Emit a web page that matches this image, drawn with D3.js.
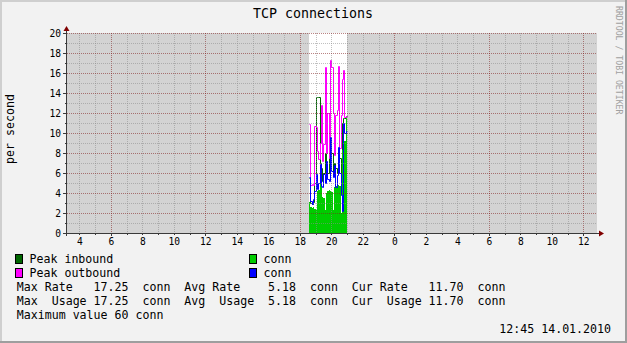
<!DOCTYPE html>
<html><head><meta charset="utf-8">
<script src="https://cdn.jsdelivr.net/npm/d3@7"></script>
<style>
html,body{margin:0;padding:0;background:#f2f2f2;}
svg{display:block;}
text{font-family:"DejaVu Sans Mono",monospace;white-space:pre;}
</style>
</head><body>
<svg id="c" width="627" height="343" xml:space="preserve"></svg>
<script>
// ---------------- data ----------------
const titleText = "TCP connections";
const yAxisLabel = "per second";
const watermark = "RRDTOOL / TOBI OETIKER";
const dateText = "12:45 14.01.2010";
const yTickValues = [0, 2, 4, 6, 8, 10, 12, 14, 16, 18, 20];
const viewStart = new Date(2010, 0, 13, 3, 13);
const viewEnd = new Date(2010, 0, 14, 12, 52);
const dataStart = new Date(2010, 0, 13, 18, 35);
const stepMinutes = 5;
// conn in (average) - green area
const inAvg   = [3.1, 2.6, 2.5, 2.6, 2.4, 2.3, 4.2, 4.3, 5.4, 5.3, 3.6, 3.5, 2.3, 4.0, 4.2,
                 4.3, 4.2, 4.1, 2.3, 4.6, 4.7, 4.6, 4.8, 4.7, 2.0, 8.3, 8.8, 9.2, 11.7];
// peak inbound - dark green line
const inPeak  = [5.5, 3.0, 2.9, 3.1, 5.0, 13.6, 13.6, 13.6, 7.0, 6.5, 5.2, 6.0, 8.0, 6.5, 6.0,
                 7.5, 9.4, 8.0, 6.0, 7.0, 6.5, 6.0, 8.5, 7.5, 6.0, 11.0, 11.5, 11.5, 11.7];
// conn out (average) - blue line
const outAvg  = [5.6, 3.2, 2.9, 3.4, 4.2, 5.9, 4.4, 5.0, 6.9, 4.7, 4.6, 5.9, 5.0, 7.2, 5.4,
                 5.2, 9.6, 6.2, 5.6, 6.8, 4.6, 5.8, 8.6, 6.0, 3.8, 2.2, 11.0, 10.0, 10.2];
// peak outbound - magenta line
const outPeak = [10.9, 4.8, 4.9, 4.8, 10.7, 10.6, 8.2, 7.4, 9.0, 12.8, 7.2, 8.9, 16.6, 8.0, 12.0,
                 7.5, 17.25, 16.6, 12.0, 7.8, 11.8, 12.3, 16.7, 8.5, 11.8, 15.4, 16.3, 11.6, 11.7];
const legendNames = ["Peak inbound", "conn", "Peak outbound", "conn"];
const legendColors = ["#006600", "#00cc00", "#ff00ff", "#0000ff"];
const statRowLabels = [["Max Rate  ", "Avg Rate  ", "Cur Rate  "],
                       ["Max  Usage", "Avg  Usage", "Cur  Usage"]];
const statValues = [17.25, 5.18, 11.70];
const unitText = "conn";
const maxValueText = "Maximum value 60 conn";

// ---------------- layout ----------------
const W = 627, H = 343;
const L = 67, R = 597, T = 33, B = 233;
const svg = d3.select("#c");

const x = d3.scaleTime().domain([viewStart, viewEnd]).range([L, R]);
const y = d3.scaleLinear().domain([0, 20]).range([B, T]);
const px = t => Math.round(x(t));
const py = v => Math.round(y(v));

// background + 3D border
svg.append("rect").attr("width", W).attr("height", H).attr("fill", "#f2f2f2");
svg.append("path").attr("d", `M0,0H${W}V2H2V${H}H0Z`).attr("fill", "#cfcfcf");
svg.append("path").attr("d", `M${W},0V${H}H0V${H-2}H${W-2}V0Z`).attr("fill", "#9e9e9e");

// samples
const step = stepMinutes * 60000;
function series(vals) {
  const pts = vals.map((v, i) => ({t: new Date(dataStart.getTime() + i * step), v}));
  pts.push({t: new Date(dataStart.getTime() + vals.length * step), v: vals[vals.length - 1]});
  return pts;
}
const dataEnd = new Date(dataStart.getTime() + inAvg.length * step);

// canvas: white where data known, gray where unknown
svg.append("rect").attr("x", L).attr("y", T).attr("width", R - L).attr("height", B - T).attr("fill", "#ffffff");
svg.append("rect").attr("x", L).attr("y", T).attr("width", px(dataStart) - L).attr("height", B - T).attr("fill", "#d3d3d3");
svg.append("rect").attr("x", px(dataEnd)).attr("y", T).attr("width", R - px(dataEnd)).attr("height", B - T).attr("fill", "#d3d3d3");

const line = d3.line().x(d => px(d.t) + 0.5).y(d => py(d.v) + 0.5).curve(d3.curveStepAfter);
const area = d3.area().x(d => px(d.t)).y0(B).y1(d => py(d.v)).curve(d3.curveStepAfter);

const g = svg.append("g");
g.append("path").attr("d", line(series(inPeak))).attr("fill", "none").attr("stroke", legendColors[0]).attr("stroke-width", 1);
g.append("path").attr("d", area(series(inAvg))).attr("fill", legendColors[1]);
g.append("path").attr("d", line(series(outPeak))).attr("fill", "none").attr("stroke", legendColors[2]).attr("stroke-width", 1);
g.append("path").attr("d", line(series(outAvg))).attr("fill", "none").attr("stroke", legendColors[3]).attr("stroke-width", 1);

// grid
const grid = svg.append("g").attr("shape-rendering", "crispEdges");
const hours = d3.timeHour.range(d3.timeHour.ceil(viewStart), viewEnd);
hours.forEach(h => {
  const major = h.getHours() % 6 === 0;
  grid.append("line").attr("x1", px(h) + 0.5).attr("x2", px(h) + 0.5)
    .attr("y1", T).attr("y2", B)
    .attr("stroke", major ? "rgba(130,30,30,0.55)" : "rgba(140,140,140,0.55)")
    .attr("stroke-dasharray", "1,1");
});
d3.range(1, 21).forEach(v => {
  const major = v % 2 === 0;
  grid.append("line").attr("x1", L).attr("x2", R)
    .attr("y1", y(v) + 0.5).attr("y2", y(v) + 0.5)
    .attr("stroke", major ? "rgba(130,30,30,0.55)" : "rgba(140,140,140,0.55)")
    .attr("stroke-dasharray", "1,1");
});

// ticks
const axc = "#3a3a3a";
d3.range(0, 21).forEach(v => {
  const major = v % 2 === 0;
  grid.append("line").attr("x1", major ? 63 : 64.5).attr("x2", L)
    .attr("y1", y(v) + 0.5).attr("y2", y(v) + 0.5).attr("stroke", axc);
});
hours.forEach(h => {
  const major = h.getHours() % 6 === 0;
  const hx = px(h) + 0.5;
  grid.append("line").attr("x1", hx).attr("x2", hx)
    .attr("y1", B).attr("y2", B + (major ? 3 : 2)).attr("stroke", axc);
});

// axes
grid.append("line").attr("x1", L - 0.5).attr("x2", L - 0.5).attr("y1", 29).attr("y2", B + 3).attr("stroke", axc);
grid.append("line").attr("x1", 63).attr("x2", 600).attr("y1", B + 0.5).attr("y2", B + 0.5).attr("stroke", axc);
svg.append("path").attr("d", `M${L-3.5},31L${L-0.5},26L${L+2.5},31Z`).attr("fill", "#800000");
svg.append("path").attr("d", `M599,${B-2.5}L604,${B+0.5}L599,${B+3.5}Z`).attr("fill", "#800000");

// y tick labels
svg.append("g").selectAll("text").data(yTickValues).join("text")
  .attr("x", 61).attr("y", d => y(d) + 3.6)
  .attr("text-anchor", "end").attr("font-size", "9.6px").attr("fill", "#000")
  .text(d => d);

// x tick labels
const labelHours = d3.timeHour.range(d3.timeHour.ceil(viewStart), viewEnd)
  .filter(h => h.getHours() % 2 === 0);
const fmtH = d3.timeFormat("%-H");
svg.append("g").selectAll("text").data(labelHours).join("text")
  .attr("x", d => x(d) + 0.5).attr("y", 244.5)
  .attr("text-anchor", "middle").attr("font-size", "9.6px").attr("fill", "#000")
  .text(d => fmtH(d));

// title
svg.append("text").attr("x", 313).attr("y", 18).attr("text-anchor", "middle")
  .attr("font-size", "13.3px").attr("fill", "#000").text(titleText);

// y axis label
svg.append("text").attr("transform", "translate(13.5,129) rotate(-90)")
  .attr("text-anchor", "middle").attr("font-size", "11.6px").attr("fill", "#000").text(yAxisLabel);

// watermark
svg.append("text").attr("transform", "translate(615.5,6) rotate(90)")
  .attr("text-anchor", "start").attr("font-size", "8.2px").attr("fill", "#a0a0a0").text(watermark);

// legend
const legPos = [[15, 254], [249, 254], [15, 268], [249, 268]];
legendNames.forEach((n, i) => {
  const [lx, ly] = legPos[i];
  svg.append("rect").attr("x", lx + 0.5).attr("y", ly + 0.5).attr("width", 7).attr("height", 9)
    .attr("fill", legendColors[i]).attr("stroke", "#000").attr("stroke-width", 1);
  svg.append("text").attr("x", lx + 14.5).attr("y", ly + 9).attr("font-size", "11.6px")
    .attr("fill", "#000").text(n);
});

const fmtV = d3.format("6.2f");
statRowLabels.forEach((row, r) => {
  const s = row.map((lab, i) => lab + fmtV(statValues[i]) + "  " + unitText).join("  ");
  svg.append("text").attr("x", 16.8).attr("y", 291 + r * 14).attr("font-size", "11.6px")
    .attr("fill", "#000").text(s);
});
svg.append("text").attr("x", 16.8).attr("y", 319).attr("font-size", "11.6px").attr("fill", "#000").text(maxValueText);
svg.append("text").attr("x", 611).attr("y", 333).attr("text-anchor", "end").attr("font-size", "11.6px").attr("fill", "#000").text(dateText);
</script>
</body></html>
